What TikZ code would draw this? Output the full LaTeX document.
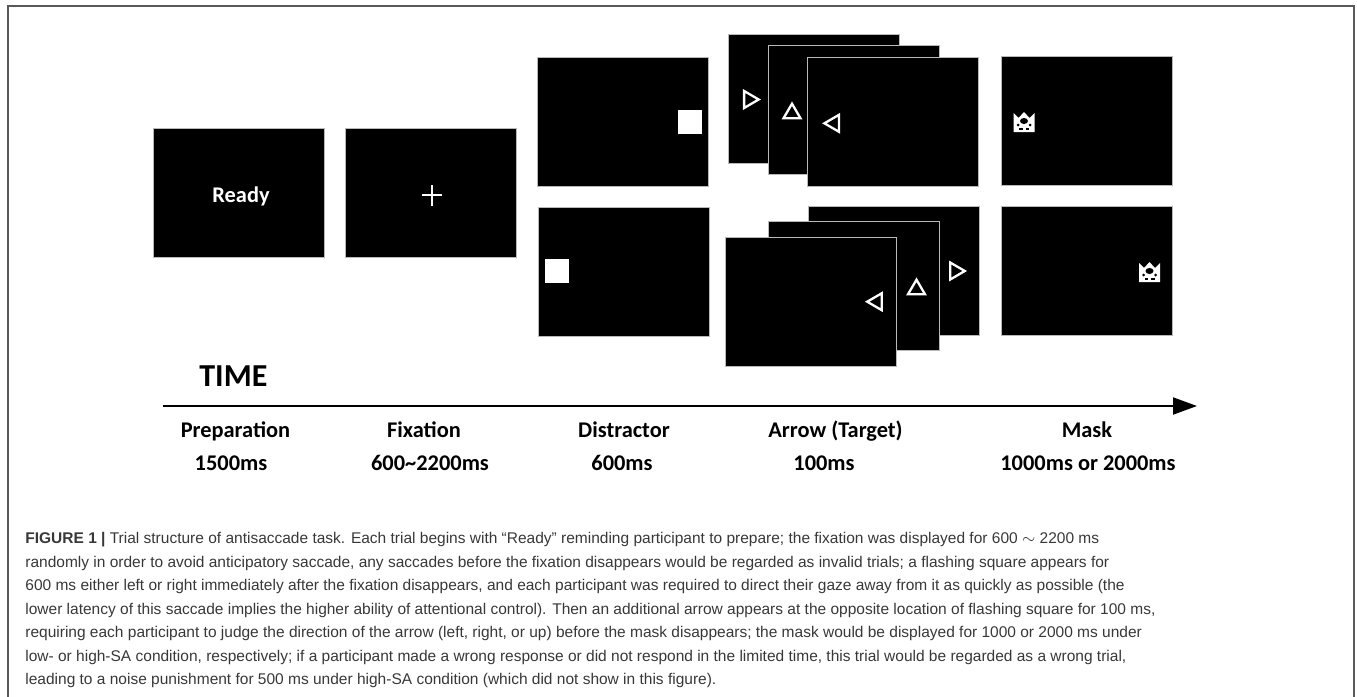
\documentclass[tikz,border=0pt]{standalone}
\usepackage{fontspec}
\setmainfont{Liberation Sans}
\newfontfamily\lblfont{Carlito}
\usetikzlibrary{arrows.meta}

\begin{document}
\begin{tikzpicture}[x=0.5pt, y=-0.5pt,
    screen/.style={fill=black, draw=gray!55, line width=0.5pt,
        minimum width=85.5pt, minimum height=64.5pt, inner sep=0pt},
    lbl/.style={font=\lblfont\bfseries\fontsize{11.2}{13}\selectfont,
        anchor=base, inner sep=0pt},
    caption/.style={font=\fontsize{7.75}{11.75}\selectfont, text=black!78,
        align=left, inner sep=0pt, anchor=north west},
    timeline/.style={line width=1pt, -{Triangle[length=12pt, width=8.5pt]}},
    flash/.style={fill=white},
    arrowtri/.pic={
        \draw[white, line width=1.15pt] (-7.3,-8.5) -- (7.3,0) -- (-7.3,8.5) -- cycle;
    },
    maskicon/.pic={
        \fill[white] (-10.5,10) -- (-10.5,-9) -- (-5.5,-4) -- (0,-10)
            -- (5.5,-4) -- (10.5,-9) -- (10.5,10) -- cycle;
        \fill[black] (0,-1) ellipse (4 and 3);
        \fill[black] (-6,3) circle (1.5);
        \fill[black] (6,3) circle (1.5);
        \fill[black] (-5,6) rectangle (-1.5,7.5);
        \fill[black] (1.5,6) rectangle (5,7.5);
    }
]
\useasboundingbox (0,0) rectangle (1357,697);

% Frame
\draw[black!65, line width=0.75pt] (8,697) -- (8,6) -- (1354,6) -- (1354,697);

% Preparation and fixation
\node[screen] (prep) at (239,192.5) {};
\node[lbl, text=white] (ready) at (241,202.3) {Ready};
\node[screen] (fix) at (431,192.5) {};
\draw[white, line width=1pt] (421.7,195.3) -- (442.3,195.3);
\draw[white, line width=1pt] (432,185) -- (432,205.6);

% Distractor
\node[screen] (distT) at (622.5,121.5) {};
\fill[flash] (678,110) rectangle (702,134);
\node[screen] (distB) at (623.5,271.5) {};
\fill[flash] (544.5,259) rectangle (568.5,283);

% Arrow (target), upper stack
\node[screen] (arrT1) at (813.5,98.5) {};
\pic at (751.4,99.5) {arrowtri};
\node[screen] (arrT2) at (853.5,109.5) {};
\pic[rotate=90] at (792,111) {arrowtri};
\node[screen] (arrT3) at (893,122) {};
\pic[rotate=180] at (831.7,123.3) {arrowtri};

% Arrow (target), lower stack
\node[screen] (arrB1) at (894,270.5) {};
\pic at (957.5,271) {arrowtri};
\node[screen] (arrB2) at (854,285.5) {};
\pic[rotate=90] at (916.5,287) {arrowtri};
\node[screen] (arrB3) at (811,301.5) {};
\pic[rotate=180] at (874.5,301.7) {arrowtri};

% Mask
\node[screen] (maskT) at (1087,120.5) {};
\pic at (1024,122) {maskicon};
\node[screen] (maskB) at (1086.5,270.5) {};
\pic at (1149.5,272) {maskicon};

% Time axis
\node[lbl, font=\lblfont\bfseries\fontsize{16}{18}\selectfont, anchor=base west]
    (timelbl) at (199,386) {TIME};
\coordinate (tstart) at (163,406);
\coordinate (tend) at (1197,406);
\draw[timeline] (tstart) -- (tend);

% Phase names and durations
\node[lbl] (prepname) at (235.5,437) {Preparation};
\node[lbl] (prepdur) at (231,470) {1500ms};
\node[lbl] (fixname) at (424,437) {Fixation};
\node[lbl] (fixdur) at (430,470) {600\textasciitilde2200ms};
\node[lbl] (distname) at (624,437) {Distractor};
\node[lbl] (distdur) at (622,470) {600ms};
\node[lbl] (arrname) at (835.5,437) {Arrow (Target)};
\node[lbl] (arrdur) at (824,470) {100ms};
\node[lbl] (maskname) at (1087,437) {Mask};
\node[lbl] (maskdur) at (1088,470) {1000ms or 2000ms};

% Caption
\node[caption] (cap) at (25,532) {\textbf{FIGURE 1 |} Trial structure of antisaccade task. Each trial begins with “Ready” reminding participant to prepare; the fixation was displayed for 600 $\sim$ 2200 ms\\
randomly in order to avoid anticipatory saccade, any saccades before the fixation disappears would be regarded as invalid trials; a flashing square appears for\\
600 ms either left or right immediately after the fixation disappears, and each participant was required to direct their gaze away from it as quickly as possible (the\\
lower latency of this saccade implies the higher ability of attentional control). Then an additional arrow appears at the opposite location of flashing square for 100 ms,\\
requiring each participant to judge the direction of the arrow (left, right, or up) before the mask disappears; the mask would be displayed for 1000 or 2000 ms under\\
low- or high-SA condition, respectively; if a participant made a wrong response or did not respond in the limited time, this trial would be regarded as a wrong trial,\\
leading to a noise punishment for 500 ms under high-SA condition (which did not show in this figure).};

\end{tikzpicture}
\end{document}
